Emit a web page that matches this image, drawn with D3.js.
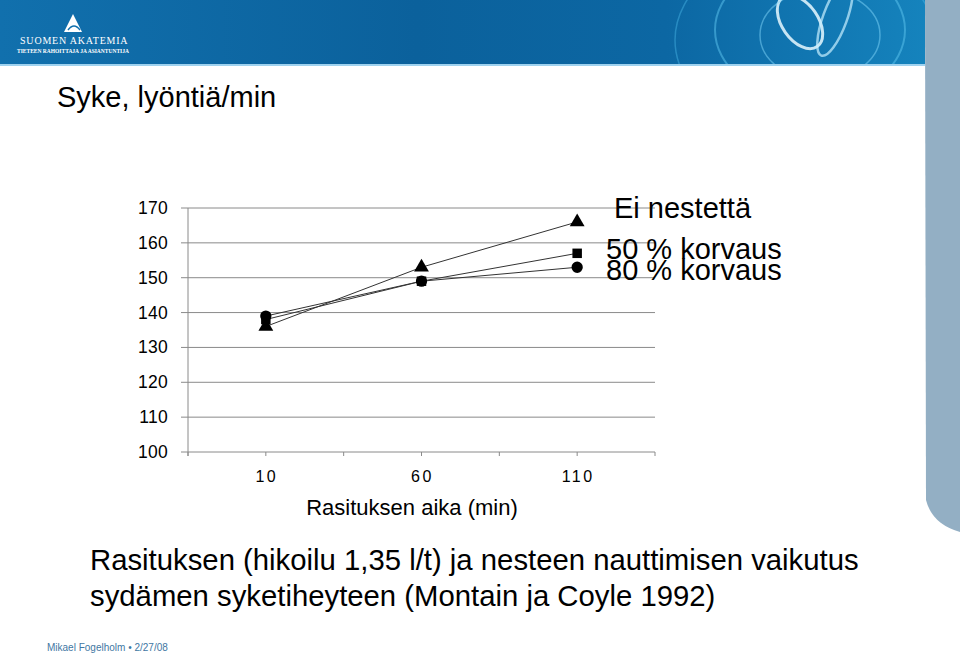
<!DOCTYPE html>
<html>
<head>
<meta charset="utf-8">
<script src="https://cdn.jsdelivr.net/npm/d3@7"></script>
<style>
  body { margin: 0; background: #fff; }
  svg { display: block; font-family: "Liberation Sans", Arial, sans-serif; }
</style>
</head>
<body>
<div id="plot"></div>
<script>
// data
var times = [10, 60, 110];
var eiNestetta = [136, 153, 166];
var korvaus50 = [138, 149, 157];
var korvaus80 = [139, 149, 153];
var seriesNames = ["Ei nestettä", "50 % korvaus", "80 % korvaus"];
var yTicks = [100, 110, 120, 130, 140, 150, 160, 170];
var xTicks = [-15, 10, 35, 60, 85, 110, 135];
var xLabels = [10, 60, 110];

var width = 960, height = 661;
var svg = d3.select("#plot").append("svg")
    .attr("width", width)
    .attr("height", height);

var defs = svg.append("defs");
var grad = defs.append("linearGradient").attr("id", "hdr")
    .attr("x1", 0).attr("x2", 1).attr("y1", 0).attr("y2", 0);
grad.append("stop").attr("offset", "0").attr("stop-color", "#1170ad");
grad.append("stop").attr("offset", "0.45").attr("stop-color", "#0b619c");
grad.append("stop").attr("offset", "0.72").attr("stop-color", "#0c67a3");
grad.append("stop").attr("offset", "1").attr("stop-color", "#1583bd");
defs.append("clipPath").attr("id", "hdrclip")
    .append("rect").attr("x", 0).attr("y", 0).attr("width", 925).attr("height", 64);

// right grey strip
svg.append("path")
    .attr("d", "M925,0 H960 V532 Q932,524 926,500 Z")
    .attr("fill", "#93afc4");

// header band
var hdr = svg.append("g").attr("clip-path", "url(#hdrclip)");
hdr.append("rect").attr("width", 925).attr("height", 64).attr("fill", "url(#hdr)");
// swirl decoration (soft arcs)
var swirl = [
  {cx: 805, cy: 40, rx: 130, ry: 95, rot: 0, w: 1.5, c: "#49b6e6", o: 0.45},
  {cx: 810, cy: 30, rx: 95, ry: 70, rot: 0, w: 2, c: "#5ec6f0", o: 0.5},
  {cx: 800, cy: 22, rx: 18, ry: 30, rot: -35, w: 3, c: "#e6f8ff", o: 0.85},
  {cx: 835, cy: 18, rx: 12, ry: 40, rot: 20, w: 2.5, c: "#c8efff", o: 0.7},
  {cx: 820, cy: 35, rx: 60, ry: 45, rot: 0, w: 1.5, c: "#7fd6fa", o: 0.5}
];
hdr.selectAll("ellipse.sw").data(swirl).enter().append("ellipse")
    .attr("class", "sw")
    .attr("transform", function(d){ return "translate(" + d.cx + "," + d.cy + ") rotate(" + d.rot + ")"; })
    .attr("rx", function(d){ return d.rx; })
    .attr("ry", function(d){ return d.ry; })
    .attr("fill", "none")
    .attr("stroke", function(d){ return d.c; })
    .attr("stroke-width", function(d){ return d.w; })
    .attr("opacity", function(d){ return d.o; });
svg.append("rect").attr("x", 0).attr("y", 64).attr("width", 925).attr("height", 2).attr("fill", "#9fd2ef");

// logo
hdr.append("path")
    .attr("d", "M73,14 L82,32 L64,32 Z")
    .attr("fill", "#fff");
hdr.append("path")
    .attr("d", "M68,30 Q74,22 80,30")
    .attr("fill", "none").attr("stroke", "#1170ad").attr("stroke-width", 1.5);
hdr.append("text").attr("x", 20).attr("y", 44)
    .attr("fill", "#fff")
    .style("font-family", "'Liberation Serif', serif")
    .style("font-size", "10px")
    .style("letter-spacing", "0.8px")
    .text("SUOMEN AKATEMIA");
hdr.append("text").attr("x", 17).attr("y", 53)
    .attr("fill", "#fff")
    .style("font-family", "'Liberation Serif', serif")
    .style("font-size", "5.5px")
    .style("font-weight", "bold")
    .text("TIETEEN RAHOITTAJA JA ASIANTUNTIJA");

// slide title
svg.append("text").attr("x", 57).attr("y", 107)
    .style("font-size", "29px")
    .attr("fill", "#000")
    .text("Syke, lyöntiä/min");

// chart
var x = d3.scaleLinear().domain([-15, 135]).range([188, 655]);
var y = d3.scaleLinear().domain([100, 170]).range([452, 208]);

var plot = svg.append("g");

plot.selectAll("line.grid").data(yTicks).enter().append("line")
    .attr("class", "grid")
    .attr("x1", 181).attr("x2", x(135))
    .attr("y1", function(d){ return y(d); })
    .attr("y2", function(d){ return y(d); })
    .attr("stroke", "#8a8a8a").attr("stroke-width", 1);

plot.append("line")
    .attr("x1", x(-15)).attr("x2", x(-15))
    .attr("y1", y(170)).attr("y2", y(100) + 4)
    .attr("stroke", "#8a8a8a");

plot.selectAll("line.xt").data(xTicks).enter().append("line")
    .attr("class", "xt")
    .attr("x1", function(d){ return x(d); })
    .attr("x2", function(d){ return x(d); })
    .attr("y1", y(100)).attr("y2", y(100) + 4)
    .attr("stroke", "#8a8a8a");

plot.selectAll("text.yl").data(yTicks).enter().append("text")
    .attr("class", "yl")
    .attr("x", 168)
    .attr("y", function(d){ return y(d) + 6; })
    .attr("text-anchor", "end")
    .style("font-size", "17.5px")
    .style("letter-spacing", "0.3px")
    .text(function(d){ return d; });

plot.selectAll("text.xl").data(xLabels).enter().append("text")
    .attr("class", "xl")
    .attr("x", function(d){ return x(d) + 1; })
    .attr("y", 482)
    .attr("text-anchor", "middle")
    .style("font-size", "16px")
    .style("letter-spacing", "2.5px")
    .text(function(d){ return d; });

plot.append("text")
    .attr("x", 412).attr("y", 515)
    .attr("text-anchor", "middle")
    .style("font-size", "22px")
    .text("Rasituksen aika (min)");

var series = [
  {name: seriesNames[0], values: eiNestetta, sym: d3.symbolTriangle, size: 95},
  {name: seriesNames[1], values: korvaus50, sym: d3.symbolSquare, size: 90},
  {name: seriesNames[2], values: korvaus80, sym: d3.symbolCircle, size: 100}
];

var line = d3.line()
    .x(function(d){ return x(d.t); })
    .y(function(d){ return y(d.v); });

series.forEach(function(s){
  var pts = times.map(function(t, i){ return {t: t, v: s.values[i]}; });
  plot.append("path")
      .attr("d", line(pts))
      .attr("fill", "none")
      .attr("stroke", "#333")
      .attr("stroke-width", 1);
  plot.selectAll(null).data(pts).enter().append("path")
      .attr("transform", function(d){ return "translate(" + x(d.t) + "," + y(d.v) + ")"; })
      .attr("d", d3.symbol().type(s.sym).size(s.size))
      .attr("fill", "#000");
});

// legend (the two lower entries overlap in the original slide)
var legendY = [218, 259, 280];
var legendX = [614, 606, 606];
plot.selectAll("text.lg").data(seriesNames).enter().append("text")
    .attr("class", "lg")
    .attr("x", function(d, i){ return legendX[i]; })
    .attr("y", function(d, i){ return legendY[i]; })
    .style("font-size", "29px")
    .text(function(d){ return d; });

// caption
var caption = [
  "Rasituksen (hikoilu 1,35 l/t) ja nesteen nauttimisen vaikutus",
  "sydämen syketiheyteen (Montain ja Coyle 1992)"
];
svg.selectAll("text.cap").data(caption).enter().append("text")
    .attr("class", "cap")
    .attr("x", 90)
    .attr("y", function(d, i){ return 570 + i * 36; })
    .style("font-size", "29.3px")
    .text(function(d){ return d; });

// footer
svg.append("text").attr("x", 47).attr("y", 651)
    .style("font-size", "10px")
    .attr("fill", "#3f77a3")
    .text("Mikael Fogelholm \u2022 2/27/08");
</script>
</body>
</html>
